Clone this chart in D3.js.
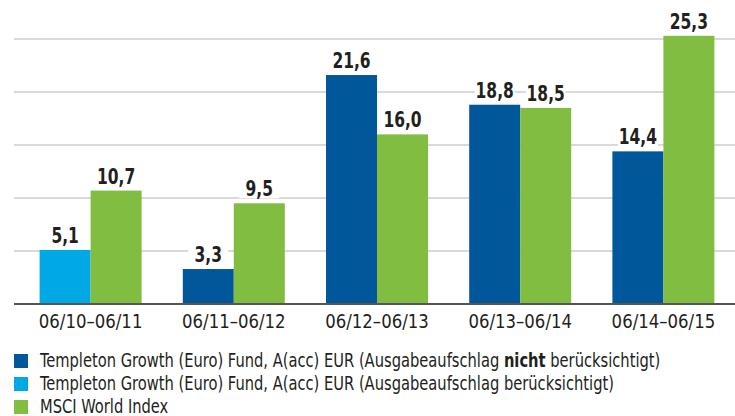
<!DOCTYPE html>
<html>
<head>
<meta charset="utf-8">
<script src="https://cdn.jsdelivr.net/npm/d3@7"></script>
<style>
  body { margin: 0; background: #fff; }
  svg { display: block; font-family: "DejaVu Sans Condensed", "DejaVu Sans", sans-serif; }
</style>
</head>
<body>
<div id="chart"></div>
<script>
// data
const periods = ['06/10–06/11', '06/11–06/12', '06/12–06/13', '06/13–06/14', '06/14–06/15'];
const fundNet = [null, 3.3, 21.6, 18.8, 14.4];   // Ausgabeaufschlag nicht berücksichtigt
const fundGross = [5.1, null, null, null, null]; // Ausgabeaufschlag berücksichtigt
const msci = [10.7, 9.5, 16.0, 18.5, 25.3];
const gridTicks = [5, 10, 15, 20, 25];

const legendItems = [
  { color: '#00589b', parts: [['Templeton Growth (Euro) Fund, A(acc) EUR (Ausgabeaufschlag ', false], ['nicht', true], [' berücksichtigt)', false]] },
  { color: '#00a9e3', parts: [['Templeton Growth (Euro) Fund, A(acc) EUR (Ausgabeaufschlag berücksichtigt)', false]] },
  { color: '#80bd41', parts: [['MSCI World Index', false]] }
];

const width = 735, height = 416;
const fmt = v => v.toFixed(1).replace('.', ',');
const narrow = 0.86; // squeeze text horizontally to mimic the condensed face

const svg = d3.select('#chart').append('svg')
  .attr('width', width)
  .attr('height', height);

const x = d3.scaleBand()
  .domain(periods)
  .range([19, 735])
  .paddingInner(0)
  .paddingOuter(0);

const y = d3.scaleLinear()
  .domain([0, 25])
  .range([304, 39]);

const barW = 51;

// gridlines
svg.append('g')
  .selectAll('line')
  .data(gridTicks)
  .join('line')
  .attr('x1', 14).attr('x2', width)
  .attr('y1', d => y(d)).attr('y2', d => y(d))
  .attr('stroke', '#d9d9d9')
  .attr('stroke-width', 2);

// build bar records
const bars = [];
periods.forEach((p, i) => {
  const cx = x(p) + x.bandwidth() / 2;
  if (fundNet[i] != null) bars.push({ x: cx - barW, v: fundNet[i], color: '#00589b' });
  if (fundGross[i] != null) bars.push({ x: cx - barW, v: fundGross[i], color: '#00a9e3' });
  bars.push({ x: cx, v: msci[i], color: '#80bd41' });
});

svg.append('g')
  .selectAll('rect')
  .data(bars)
  .join('rect')
  .attr('x', d => d.x)
  .attr('y', d => y(d.v))
  .attr('width', barW)
  .attr('height', d => y(0) - y(d.v))
  .attr('fill', d => d.color);

// baseline
svg.append('line')
  .attr('x1', 14).attr('x2', width)
  .attr('y1', y(0)).attr('y2', y(0))
  .attr('stroke', '#555')
  .attr('stroke-width', 2);

// value labels with white backing
const labels = svg.append('g')
  .selectAll('g')
  .data(bars)
  .join('g')
  .attr('transform', d => `translate(${d.x + barW / 2},${y(d.v) - 7})`);

labels.append('rect')
  .attr('x', -20).attr('y', -17)
  .attr('width', 40).attr('height', 19)
  .attr('fill', '#fff');

labels.append('text')
  .attr('text-anchor', 'middle')
  .attr('transform', 'scale(0.82,1)')
  .attr('font-size', 21)
  .attr('font-weight', 'bold')
  .attr('fill', '#231f20')
  .text(d => fmt(d.v));

// x axis labels
const xAxis = svg.append('g')
  .attr('transform', `translate(0,${y(0)})`)
  .call(d3.axisBottom(x).tickSize(0).tickPadding(10));
xAxis.select('.domain').remove();
xAxis.selectAll('.tick')
  .attr('transform', d => `translate(${x(d) + x.bandwidth() / 2},0) scale(0.92,1)`);
xAxis.selectAll('text')
  .attr('font-size', 20)
  .attr('font-family', '"DejaVu Sans Condensed", sans-serif')
  .attr('fill', '#231f20');

// legend
const legend = svg.append('g')
  .selectAll('g')
  .data(legendItems)
  .join('g')
  .attr('transform', (d, i) => `translate(14,${354 + i * 23})`);

legend.append('rect')
  .attr('width', 14).attr('height', 14)
  .attr('fill', d => d.color);

legend.append('text')
  .attr('transform', `translate(26,13) scale(${narrow},1)`)
  .attr('font-size', 19)
  .attr('fill', '#231f20')
  .selectAll('tspan')
  .data(d => d.parts)
  .join('tspan')
  .attr('font-weight', d => d[1] ? 'bold' : 'normal')
  .text(d => d[0]);
</script>
</body>
</html>
